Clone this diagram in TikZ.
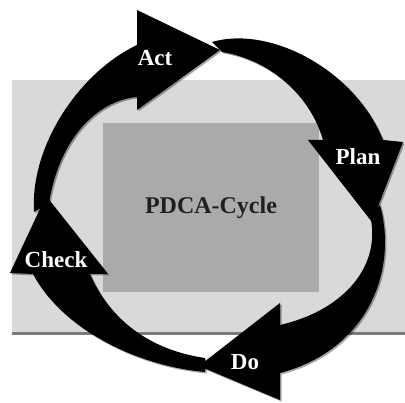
\documentclass[tikz,border=0pt]{standalone}
\usepackage{fontspec}
\setmainfont{Liberation Serif}
\usetikzlibrary{shadows}
\definecolor{panel}{HTML}{D9D9D9}
\definecolor{core}{HTML}{AAAAAA}
\definecolor{panelshade}{HTML}{7A7A7A}
\tikzset{
  arrowbody/.style={fill=black, drop shadow={shadow xshift=1.5pt, shadow yshift=-1.5pt, opacity=0.35, fill=black}},
  arrowlabel/.style={text=white, font=\fontsize{23}{26}\selectfont\bfseries, inner sep=0pt},
  corebox/.style={fill=core, minimum width=216pt, minimum height=169pt, inner sep=0pt,
    font=\fontsize{24}{28}\selectfont\bfseries, text=black!88}
}
\begin{document}
\begin{tikzpicture}[x=1pt, y=-1pt]
\useasboundingbox (0,0) rectangle (405,403);
\fill[white] (0,0) rectangle (405,403);
% background panel with bottom shade
\fill[panelshade] (12,82) rectangle (405,335);
\fill[panel] (12,80) rectangle (405,332);
% centre box
\node[corebox] (core) at (211,207.5) {PDCA-Cycle};
% Act arrow (left side, pointing to the top right)
\path[arrowbody] (34,212) .. controls (30,145) and (80,72) .. (137,45)
  -- (137,10) -- (220,50) -- (137,110) -- (137,97)
  .. controls (100,100) and (60,135) .. (49,203) -- cycle;
% Plan arrow (top right, pointing down)
\path[arrowbody] (212,42) .. controls (270,25) and (355,70) .. (383,140)
  -- (403,142) -- (372,222) -- (308,140) -- (323,140)
  .. controls (310,95) and (270,60) .. (222,52) -- cycle;
% Do arrow (right side, pointing to the bottom left)
\path[arrowbody] (380,205) .. controls (398,270) and (368,350) .. (280,373)
  -- (280,400) -- (199,366) -- (280,303) -- (280,325)
  .. controls (345,310) and (382,265) .. (370,215) -- cycle;
% Check arrow (bottom left, pointing up)
\path[arrowbody] (205,372) .. controls (130,365) and (60,325) .. (33,274)
  -- (10,273) -- (46,196) -- (108,274) -- (90,274)
  .. controls (110,320) and (150,350) .. (205,358) -- cycle;
% labels
\node[arrowlabel] (act) at (155,58) {Act};
\node[arrowlabel] (plan) at (358,157) {Plan};
\node[arrowlabel] (do) at (245,362) {Do};
\node[arrowlabel] (check) at (56,260) {Check};
\end{tikzpicture}
\end{document}
